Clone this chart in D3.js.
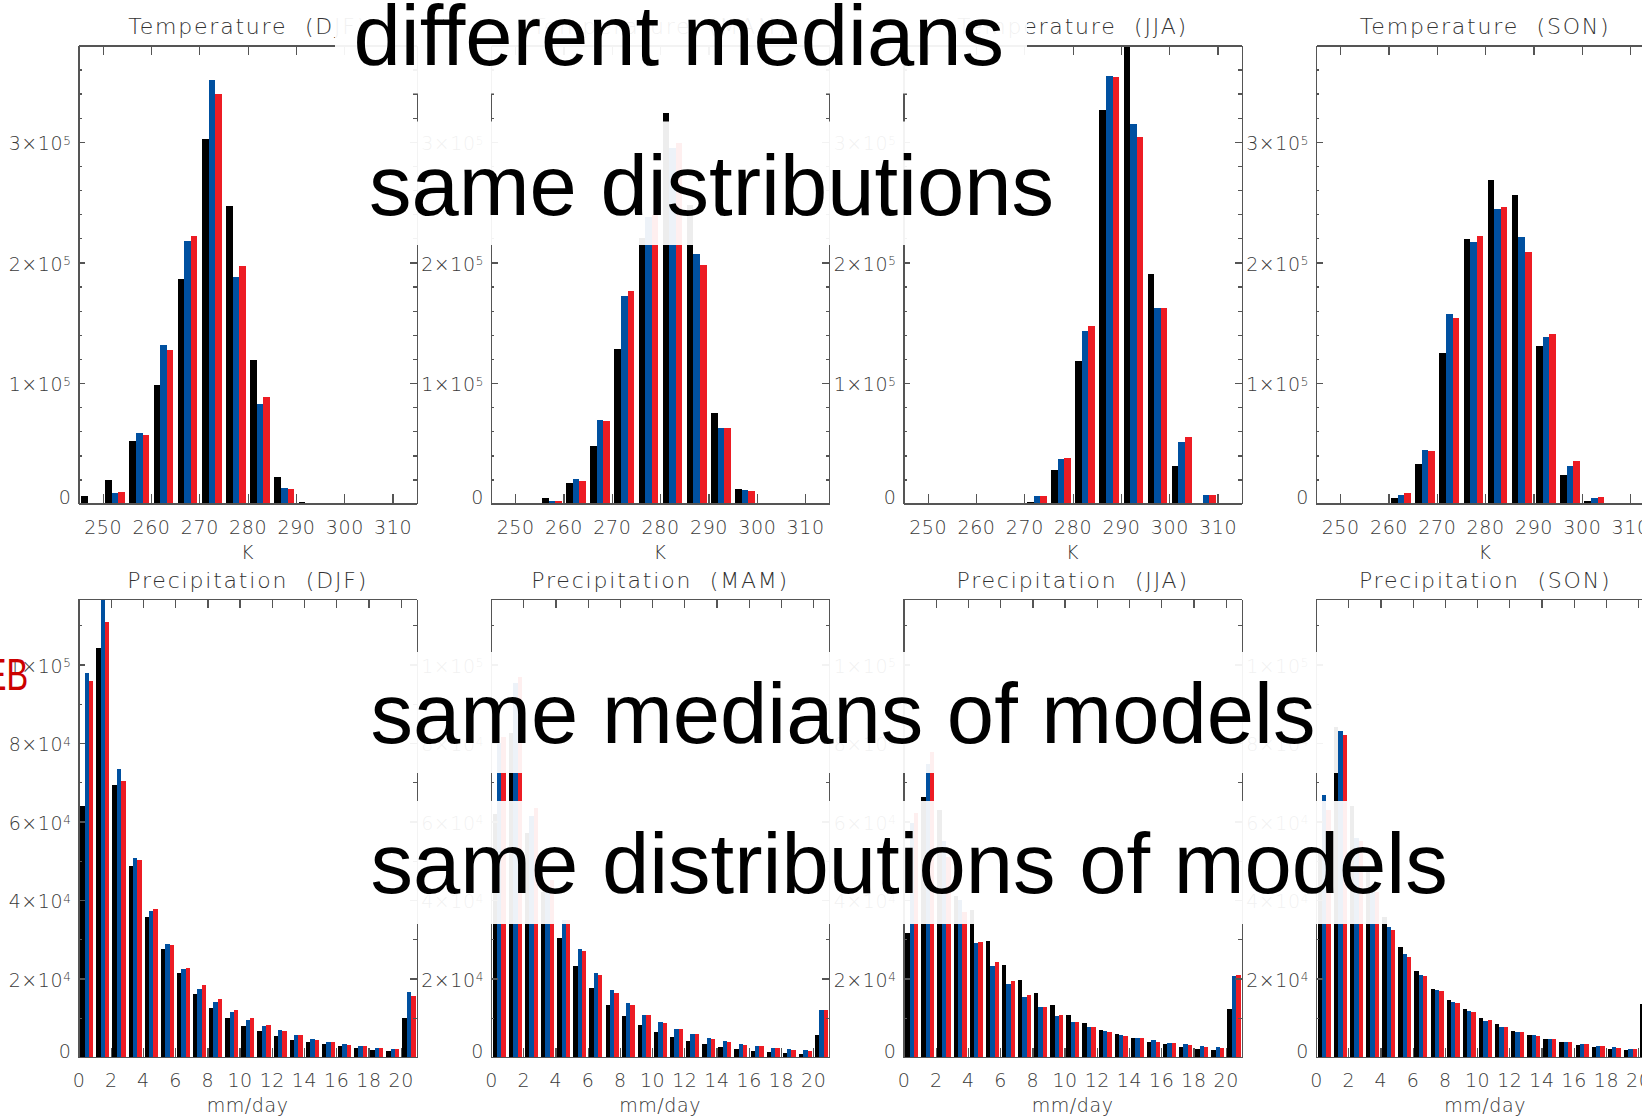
<!DOCTYPE html>
<html>
<head>
<meta charset="utf-8">
<script src="https://cdn.jsdelivr.net/npm/d3@7"></script>
<style>
  html, body { margin: 0; padding: 0; background: #fff; }
  svg { display: block; }
  .title, .axis-label { font-family: "DejaVu Sans", sans-serif; fill: #333; }
  .note { font-family: "Liberation Sans", Arial, sans-serif; font-size: 85px; fill: #000; }
</style>
</head>
<body>
<div id="chart-area"></div>
<script>
const seasons = ["DJF", "MAM", "JJA", "SON"];
const seriesColors = ["#000000", "#0050a0", "#ed1c24"];

// temperature, 5 K bins
const tempBinStarts = [245, 250, 255, 260, 265, 270, 275, 280, 285, 290, 295, 300, 305, 310];
const tempTicks = [250, 260, 270, 280, 290, 300, 310];
const tempYTicks = [0, 100000, 200000, 300000];

const tempDJFBlack = [6500, 19500, 51800, 98200, 186400, 302100, 246400, 118900, 21900, 1200, 700, 700, 700, 700];
const tempDJFBlue = [700, 8900, 58600, 131400, 217500, 350900, 187600, 82500, 13000, 700, 700, 700, 700, 700];
const tempDJFRed = [700, 9500, 56800, 127200, 221600, 339300, 196700, 88200, 12100, 700, 700, 700, 700, 700];

const tempMAMBlack = [700, 700, 5000, 17200, 47900, 128100, 220400, 323900, 247800, 75400, 12400, 700, 700, 700];
const tempMAMBlue = [700, 700, 2000, 20700, 69500, 172200, 238100, 294800, 206600, 63000, 11200, 700, 700, 700];
const tempMAMRed = [700, 700, 2000, 18900, 68600, 176000, 239500, 299000, 197900, 63000, 10400, 700, 700, 700];

const tempJJABlack = [700, 700, 700, 700, 700, 1000, 27800, 118300, 326300, 390000, 190200, 31100, 700, 700];
const tempJJABlue = [700, 700, 700, 700, 700, 6500, 37300, 142900, 354400, 314500, 162100, 50900, 7100, 700];
const tempJJARed = [700, 700, 700, 700, 700, 6500, 38200, 147300, 353600, 303800, 162100, 55300, 7100, 700];

const tempSONBlack = [700, 700, 700, 5000, 33100, 124900, 219500, 268300, 255900, 130800, 24000, 2400, 700, 700];
const tempSONBlue = [700, 700, 700, 7400, 44400, 157400, 216900, 244100, 221000, 138500, 30800, 5000, 700, 700];
const tempSONRed = [700, 700, 700, 9200, 43500, 154100, 221600, 245900, 208300, 140800, 35500, 5600, 700, 700];

// precipitation, 1 mm/day bins, last bin holds everything above 20
const precipBinStarts = [0, 1, 2, 3, 4, 5, 6, 7, 8, 9, 10, 11, 12, 13, 14, 15, 16, 17, 18, 19, 20];
const precipTicks = [0, 2, 4, 6, 8, 10, 12, 14, 16, 18, 20];
const precipYTicks = [0, 20000, 40000, 60000, 80000, 100000];

const precipDJFBlack = [63960, 104200, 69280, 48740, 35590, 27480, 21350, 16040, 12520, 10000, 7930, 6670, 5400, 4410, 3870, 3420, 2880, 2340, 1890, 1620, 10000];
const precipDJFBlue = [97760, 119000, 73330, 50810, 37120, 28740, 22430, 17300, 14050, 11530, 9460, 7930, 6940, 5680, 4680, 3870, 3420, 2880, 2340, 2070, 16670];
const precipDJFRed = [95800, 110900, 70360, 50270, 37660, 28470, 22610, 18380, 14770, 11980, 9910, 8200, 6670, 5680, 4410, 3870, 3150, 2880, 2340, 2070, 15590];

const precipMAMBlack = [62000, 82500, 57000, 42000, 30200, 23150, 17570, 13240, 10450, 8200, 6400, 5140, 4140, 3420, 2610, 2070, 1620, 1350, 1080, 810, 5680];
const precipMAMBlue = [80000, 95200, 61500, 43000, 35000, 27480, 21350, 17120, 13780, 10720, 8920, 7210, 5950, 4860, 4140, 3420, 2880, 2340, 2070, 1890, 11980];
const precipMAMRed = [81600, 96900, 63500, 45000, 35000, 26940, 20900, 16400, 13240, 10720, 8740, 7210, 5950, 4680, 3870, 3150, 2880, 2340, 1890, 1620, 11980];

const precipJJABlack = [31500, 66200, 63000, 41000, 37400, 29460, 23420, 19640, 16310, 13240, 10720, 8740, 6940, 5950, 4860, 3870, 3420, 2610, 2070, 1890, 12250];
const precipJJABlue = [59500, 74700, 55000, 40000, 29000, 23150, 18650, 15320, 12790, 10450, 8920, 7660, 6670, 5680, 4860, 4410, 3600, 3420, 2880, 2610, 20630];
const precipJJARed = [62200, 77800, 51000, 37000, 29300, 24140, 19370, 15770, 12790, 10720, 8920, 7660, 6400, 5400, 4860, 3870, 3600, 3150, 2610, 2340, 20900];

const precipSONBlack = [52000, 84000, 64000, 48000, 35600, 27930, 21890, 17300, 14500, 12250, 10000, 8470, 6670, 5680, 4680, 3870, 3150, 2610, 2070, 1890, 13500];
const precipSONBlue = [66700, 83150, 55800, 43000, 33060, 26310, 20900, 17120, 14050, 11710, 9190, 7660, 6400, 5680, 4680, 3870, 3420, 2880, 2610, 2070, 20000];
const precipSONRed = [63000, 81980, 55000, 42000, 32430, 25400, 20630, 16850, 13780, 11530, 9460, 7660, 6400, 5400, 4680, 3870, 3420, 2880, 2340, 2070, 20500];

const overlayNotes = ["different medians", "same distributions", "same medians of models", "same distributions of models"];
const sideNote = "EB";

const chartSize = { width: 1642, height: 1117 };
const panelLeft = [78.5, 491, 903.5, 1316];
const panelWidth = 338.3;
const barOffset = 0.11;
const barFrac = 0.27;
const xTickLen = 9.2;
const yTickLen = 6.8;

const rows = [
  {
    name: "Temperature",
    top: 45.4,
    height: 458.2,
    xDomain: [245, 315],
    yMax: 380000,
    yMinorStep: 20000,
    step: 5,
    bins: tempBinStarts,
    xTicks: tempTicks,
    yTicks: tempYTicks,
    xLabel: "K",
    series: [
      [tempDJFBlack, tempDJFBlue, tempDJFRed],
      [tempMAMBlack, tempMAMBlue, tempMAMRed],
      [tempJJABlack, tempJJABlue, tempJJARed],
      [tempSONBlack, tempSONBlue, tempSONRed]
    ]
  },
  {
    name: "Precipitation",
    top: 599,
    height: 458,
    xDomain: [0, 21],
    yMax: 116700,
    yMinorStep: 10000,
    step: 1,
    bins: precipBinStarts,
    xTicks: precipTicks,
    yTicks: precipYTicks,
    xLabel: "mm/day",
    series: [
      [precipDJFBlack, precipDJFBlue, precipDJFRed],
      [precipMAMBlack, precipMAMBlue, precipMAMRed],
      [precipJJABlack, precipJJABlue, precipJJARed],
      [precipSONBlack, precipSONBlue, precipSONRed]
    ]
  }
];

// boxes behind the big notes: [x0, y0, x1, y1], text x and baseline
const noteLayout = [
  { box: [335, 0, 1027, 93.5], x: 353.5, base: 64.5 },
  { box: [348, 121.5, 1075, 245], x: 369, base: 215 },
  { box: [350, 652, 1338, 773], x: 370.5, base: 743.3 },
  { box: [350, 801, 1471, 924], x: 370.5, base: 893.3 }
];

const sciLabel = function(d) {
  const t = d3.select(this);
  if (d === 0) {
    t.text("0").attr("dy", "0em");
    return;
  }
  const e = Math.floor(Math.log10(d) + 1e-9);
  const m = Math.round(d / Math.pow(10, e));
  t.text(`${m}\u00d710`).attr("dy", "0.4em");
  t.append("tspan")
    .attr("dy", "-0.45em")
    .attr("font-size", 12)
    .text(e);
};

const styleAxis = g => {
  g.attr("font-size", 19)
    .attr("font-family", "DejaVu Sans, sans-serif")
    .attr("font-weight", 300)
    .attr("letter-spacing", 0.6)
    .attr("color", "#3a3a3a");
  g.selectAll("path, line")
    .attr("stroke", "#555")
    .attr("stroke-width", 1.3)
    .attr("shape-rendering", "crispEdges");
};

const drawPanel = (svg, row, col) => {
  const g = svg
    .append("g")
    .attr("transform", `translate(${panelLeft[col]}, ${row.top})`);

  const x = d3.scaleLinear().domain(row.xDomain).range([0, panelWidth]);
  const y = d3.scaleLinear().domain([0, row.yMax]).range([row.height, 0]);

  const clipId = `clip-${row.name}-${col}`;
  g.append("clipPath")
    .attr("id", clipId)
    .append("rect")
    .attr("width", panelWidth)
    .attr("height", row.height);

  const bars = g.append("g").attr("clip-path", `url(#${clipId})`);
  const barWidth = x(row.bins[0] + row.step * barFrac) - x(row.bins[0]);

  row.series[col].forEach((values, s) => {
    bars
      .append("g")
      .attr("fill", seriesColors[s])
      .selectAll("rect")
      .data(values)
      .join("rect")
      .attr("x", (v, i) => x(row.bins[i] + (barOffset + s * barFrac) * row.step))
      .attr("width", barWidth)
      .attr("y", v => y(v))
      .attr("height", v => y(0) - y(v))
      .attr("shape-rendering", "crispEdges");
  });

  const yMinor = d3.range(0, row.yMax, row.yMinorStep);

  g.append("g")
    .attr("transform", `translate(0, ${row.height})`)
    .call(d3.axisBottom(x).tickValues(row.xTicks).tickSizeInner(-xTickLen).tickSizeOuter(0).tickPadding(17))
    .call(styleAxis);

  g.append("g")
    .call(d3.axisTop(x).tickValues(row.xTicks).tickSizeInner(-xTickLen).tickSizeOuter(0).tickFormat(""))
    .call(styleAxis);

  g.append("g")
    .call(d3.axisLeft(y).tickValues(yMinor).tickSizeInner(-yTickLen / 2).tickSizeOuter(0).tickFormat(""))
    .call(styleAxis);

  g.append("g")
    .call(d3.axisLeft(y).tickValues(row.yTicks).tickSizeInner(-yTickLen).tickSizeOuter(0).tickPadding(7))
    .call(styleAxis)
    .selectAll(".tick text")
    .each(sciLabel);

  g.append("g")
    .attr("transform", `translate(${panelWidth}, 0)`)
    .call(d3.axisRight(y).tickValues(yMinor).tickSizeInner(-yTickLen / 2).tickSizeOuter(0).tickFormat(""))
    .call(styleAxis);

  g.append("g")
    .attr("transform", `translate(${panelWidth}, 0)`)
    .call(d3.axisRight(y).tickValues(row.yTicks).tickSizeInner(-yTickLen).tickSizeOuter(0).tickFormat(""))
    .call(styleAxis);

  g.append("text")
    .attr("class", "title")
    .attr("x", panelWidth / 2)
    .attr("y", -11.2)
    .attr("text-anchor", "middle")
    .attr("font-size", 22)
    .attr("font-weight", 300)
    .attr("letter-spacing", 1.8)
    .text(`${row.name}  (${seasons[col]})`)
    .style("white-space", "pre");

  g.append("text")
    .attr("class", "axis-label")
    .attr("x", panelWidth / 2)
    .attr("y", row.height + 55.3)
    .attr("text-anchor", "middle")
    .attr("font-size", 19)
    .attr("font-weight", 300)
    .attr("letter-spacing", 0.6)
    .text(row.xLabel);
};

const main = () => {
  const svg = d3
    .select("#chart-area")
    .append("svg")
    .attr("width", chartSize.width)
    .attr("height", chartSize.height);

  rows.forEach(row => seasons.forEach((s, col) => drawPanel(svg, row, col)));

  svg.append("text")
    .attr("transform", "translate(28.2, 690) scale(0.74, 1)")
    .attr("text-anchor", "end")
    .attr("font-family", "Liberation Sans, Arial, sans-serif")
    .attr("font-size", 44)
    .attr("fill", "#cc0000")
    .text(sideNote);

  const notes = svg.append("g").attr("class", "notes");
  overlayNotes.forEach((txt, i) => {
    const l = noteLayout[i];
    notes.append("rect")
      .attr("x", l.box[0])
      .attr("y", l.box[1])
      .attr("width", l.box[2] - l.box[0])
      .attr("height", l.box[3] - l.box[1])
      .attr("fill", "#fff")
      .attr("fill-opacity", 0.93);
    notes.append("text")
      .attr("class", "note")
      .attr("x", l.x)
      .attr("y", l.base)
      .text(txt);
  });
};

window.onload = main;
</script>
</body>
</html>
